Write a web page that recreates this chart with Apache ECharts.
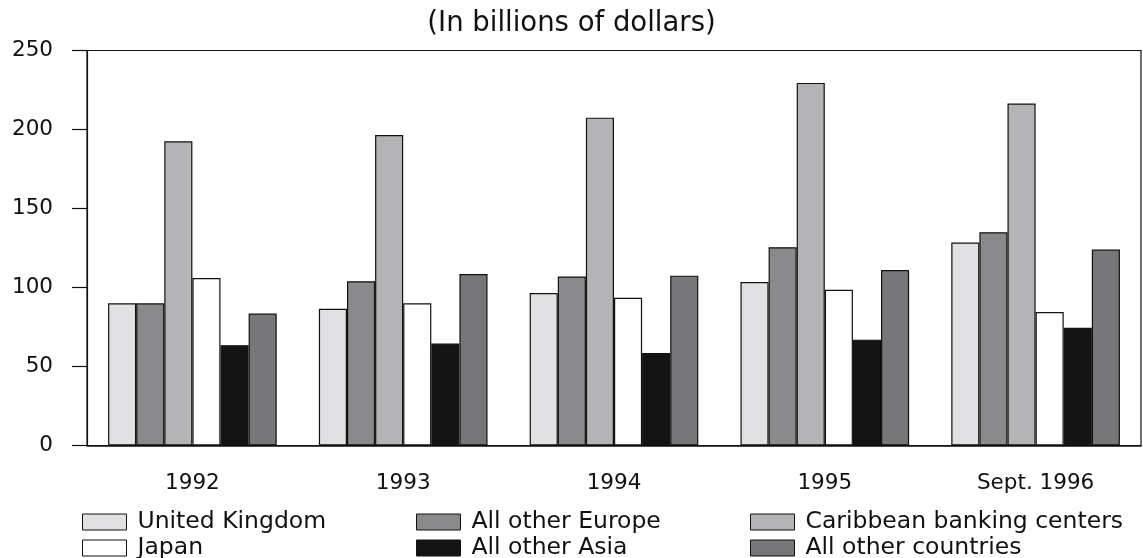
<!DOCTYPE html>
<html>
<head>
<meta charset="utf-8">
<script src="https://cdn.jsdelivr.net/npm/echarts@6/dist/echarts.min.js"></script>
<style>
html,body{margin:0;padding:0;background:#fff;}
#chart{width:1143px;height:558px;}
</style>
</head>
<body>
<div id="chart"></div>
<script>
const categories = ['1992', '1993', '1994', '1995', 'Sept. 1996'];
const seriesNames = ['United Kingdom', 'All other Europe', 'Caribbean banking centers', 'Japan', 'All other Asia', 'All other countries'];
const unitedKingdom = [90, 86.5, 96.5, 103.5, 128.5];
const otherEurope = [90, 104, 107, 125.5, 135];
const caribbean = [192.5, 196.5, 207.5, 229.5, 216.5];
const japan = [106, 90, 93.5, 98.5, 84.5];
const otherAsia = [63.5, 64.5, 58.5, 67, 74.5];
const otherCountries = [83.5, 108.5, 107.5, 111, 124];
const yTicks = [0, 50, 100, 150, 200, 250];

const colors = ['#e1e1e3', '#8a8a8c', '#b4b4b6', '#ffffff', '#141414', '#77777a'];
const dataSets = [unitedKingdom, otherEurope, caribbean, japan, otherAsia, otherCountries];
const FONT = 'DejaVu Sans';

const series = seriesNames.map((name, i) => ({
  name: name,
  type: 'bar',
  data: dataSets[i],
  barGap: '0%',
  barCategoryGap: '20%',
  itemStyle: { color: colors[i], borderColor: '#111', borderWidth: 1.2 },
  emphasis: { disabled: true }
}));

// legend layout: 3 columns x 2 rows
const legendLefts = [82, 416, 750, 82, 416, 750];
const legendTops = [510, 510, 510, 536, 536, 536];

function legendItem(idx) {
  const n = seriesNames[idx];
  return {
    left: legendLefts[idx],
    top: legendTops[idx],
    itemWidth: 44,
    itemHeight: 16,
    padding: 0,
    data: [{ name: n, icon: 'rect', itemStyle: { color: colors[idx], borderColor: '#111', borderWidth: 1 } }],
    textStyle: { fontFamily: FONT, fontSize: 23.5, color: '#111', lineHeight: 16, padding: [0, 0, 8, 6] },
    selectedMode: false
  };
}

const chart = echarts.init(document.getElementById('chart'));
chart.setOption({
  animation: false,
  backgroundColor: '#fff',
  title: {
    text: '(In billions of dollars)',
    left: 'center',
    top: 5,
    textStyle: { fontFamily: FONT, fontSize: 27.5, fontWeight: 'normal', color: '#111' }
  },
  legend: seriesNames.map((n, i) => legendItem(i)),
  grid: {
    left: 87, right: 2, top: 50.5, bottom: 112.5,
    show: true, borderColor: '#111', borderWidth: 1.2, backgroundColor: 'transparent'
  },
  xAxis: {
    type: 'category',
    data: categories,
    axisLine: { lineStyle: { color: '#111', width: 1.5 } },
    axisTick: { alignWithLabel: true, length: 10, lineStyle: { color: '#111', width: 1.2 } },
    axisLabel: { fontFamily: FONT, fontSize: 21.5, color: '#111', margin: 27 }
  },
  yAxis: {
    type: 'value',
    min: yTicks[0],
    max: yTicks[yTicks.length - 1],
    interval: 50,
    splitLine: { show: false },
    axisLine: { show: true, lineStyle: { color: '#111', width: 1.2 } },
    axisTick: { show: true, length: 15, lineStyle: { color: '#111', width: 1.2 } },
    axisLabel: { fontFamily: FONT, fontSize: 21.5, color: '#111', margin: 34 }
  },
  series: series
});
</script>
</body>
</html>
